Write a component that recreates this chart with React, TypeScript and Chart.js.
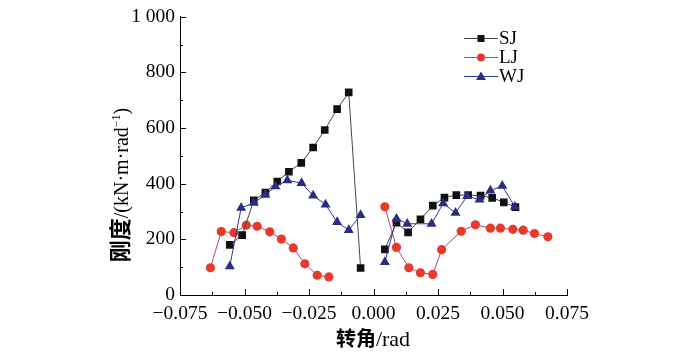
import React, { useEffect, useRef } from "react";
import { Chart, registerables } from "chart.js";
Chart.register(...registerables);

// ---- data (rotation in rad, stiffness in kN·m/rad) ----
const sjNegX = [-0.0557, -0.0509, -0.0464, -0.0419, -0.0373, -0.0328, -0.028, -0.0234, -0.0189, -0.0141, -0.0096, -0.005];
const sjNegY = [180, 215, 340, 368, 408, 443, 475, 530, 593, 668, 728, 97];
const sjPosX = [0.0044, 0.0089, 0.0134, 0.0182, 0.023, 0.0275, 0.0321, 0.0367, 0.0415, 0.046, 0.0505, 0.055];
const sjPosY = [164, 260, 225, 272, 321, 350, 359, 359, 357, 349, 333, 316];

const ljNegX = [-0.0632, -0.059, -0.0541, -0.0493, -0.0451, -0.0402, -0.0357, -0.0311, -0.0266, -0.0218, -0.0173];
const ljNegY = [98, 228, 224, 251, 247, 227, 201, 169, 112, 71, 65];
const ljPosX = [0.0044, 0.0089, 0.0137, 0.0182, 0.023, 0.0264, 0.034, 0.0395, 0.0453, 0.0492, 0.054, 0.058, 0.0624, 0.0676];
const ljPosY = [317, 171, 98, 80, 74, 163, 229, 252, 240, 240, 236, 233, 221, 209];

const wjNegX = [-0.0557, -0.0513, -0.0464, -0.0419, -0.038, -0.0334, -0.0279, -0.0234, -0.0186, -0.0141, -0.0096, -0.005];
const wjNegY = [103, 313, 331, 360, 390, 412, 402, 357, 325, 262, 233, 287];
const wjPosX = [0.0044, 0.0089, 0.0131, 0.0225, 0.027, 0.0318, 0.0363, 0.0411, 0.0453, 0.0499, 0.0548];
const wjPosY = [118, 274, 256, 256, 329, 295, 355, 343, 375, 392, 317];

const seriesNames = ["SJ", "LJ", "WJ"];
const xMin = -0.075, xMax = 0.075, xStep = 0.025;
const yMin = 0, yMax = 1000, yStep = 200;

const SERIF = '"Liberation Serif", "Times New Roman", serif';
const CJK = '"Noto Sans CJK SC", sans-serif';

function pts(nx: number[], ny: number[], px: number[], py: number[]) {
  return [
    ...nx.map((x, i) => ({ x, y: ny[i] })),
    { x: 0, y: null as any },
    ...px.map((x, i) => ({ x, y: py[i] })),
  ];
}

const styles = [
  { line: "#3d4a45", fill: "#111111", edge: "#111111", shape: "rect" },
  { line: "#c2406e", fill: "#e8392d", edge: "#e4533f", shape: "circle" },
  { line: "#34379a", fill: "#2b2e7e", edge: "#2b2e7e", shape: "triangle" },
];

function drawMarker(ctx: CanvasRenderingContext2D, shape: string, x: number, y: number, s: number, fill: string) {
  ctx.fillStyle = fill;
  ctx.beginPath();
  if (shape === "rect") {
    ctx.rect(x - s / 2, y - s / 2, s, s);
  } else if (shape === "circle") {
    ctx.arc(x, y, s / 2, 0, Math.PI * 2);
  } else {
    ctx.moveTo(x, y - s * 0.55);
    ctx.lineTo(x + s * 0.55, y + s * 0.4);
    ctx.lineTo(x - s * 0.55, y + s * 0.4);
    ctx.closePath();
  }
  ctx.fill();
}

function drawMixed(ctx: CanvasRenderingContext2D, parts: { t: string; f: string; dy?: number }[], cx: number, cy: number) {
  let total = 0;
  const widths = parts.map((p) => {
    ctx.font = p.f;
    const w = ctx.measureText(p.t).width;
    total += w;
    return w;
  });
  let x = cx - total / 2;
  ctx.textBaseline = "alphabetic";
  ctx.textAlign = "left";
  parts.forEach((p, i) => {
    ctx.font = p.f;
    ctx.fillText(p.t, x, cy + (p.dy || 0));
    x += widths[i];
  });
}

const decor = {
  id: "decor",
  afterDraw(chart: any) {
    const { ctx } = chart;
    const xs = chart.scales.x;
    const ys = chart.scales.y;
    const ca = chart.chartArea;
    ctx.save();
    ctx.strokeStyle = "#000";
    ctx.lineWidth = 1;
    // inward ticks on x
    const nx = Math.round((xMax - xMin) / (xStep / 2));
    for (let i = 0; i <= nx; i++) {
      const v = xMin + (i * xStep) / 2;
      const px = Math.round(xs.getPixelForValue(v)) + 0.5;
      const len = i % 2 === 0 ? 6 : 3;
      ctx.beginPath();
      ctx.moveTo(px, ca.bottom);
      ctx.lineTo(px, ca.bottom - len);
      ctx.stroke();
    }
    const ny = Math.round((yMax - yMin) / (yStep / 2));
    for (let i = 0; i <= ny; i++) {
      const v = yMin + (i * yStep) / 2;
      const py = Math.round(ys.getPixelForValue(v)) + 0.5;
      const len = i % 2 === 0 ? 6 : 3;
      ctx.beginPath();
      ctx.moveTo(ca.left, py);
      ctx.lineTo(ca.left + len, py);
      ctx.stroke();
    }
    // axis titles
    ctx.fillStyle = "#000";
    drawMixed(
      ctx,
      [
        { t: "转角", f: `bold 20px ${CJK}` },
        { t: "/rad", f: `22px ${SERIF}` },
      ],
      373,
      346
    );
    ctx.save();
    ctx.translate(128, 185);
    ctx.rotate(-Math.PI / 2);
    drawMixed(
      ctx,
      [
        { t: "刚度", f: `bold 22px ${CJK}` },
        { t: "/(kN·m·rad", f: `20px ${SERIF}` },
        { t: "−1", f: `12px ${SERIF}`, dy: -8 },
        { t: ")", f: `20px ${SERIF}` },
      ],
      0,
      0
    );
    ctx.restore();
    // legend
    const rows = [38, 57, 76];
    seriesNames.forEach((name, i) => {
      const st = styles[i];
      const y = rows[i] + 0.5;
      ctx.strokeStyle = st.line;
      ctx.lineWidth = 1;
      ctx.beginPath();
      ctx.moveTo(464, y);
      ctx.lineTo(498, y);
      ctx.stroke();
      drawMarker(ctx, st.shape, 481, y, i === 0 ? 7 : i === 1 ? 8 : 9, st.fill);
      ctx.fillStyle = "#000";
      ctx.font = `19px ${SERIF}`;
      ctx.textAlign = "left";
      ctx.textBaseline = "middle";
      ctx.fillText(name, 499, rows[i] + 1);
    });
    ctx.restore();
  },
};

export default function App() {
  const ref = useRef<HTMLCanvasElement>(null);
  useEffect(() => {
    if (!ref.current) return;
    const all = [
      pts(sjNegX, sjNegY, sjPosX, sjPosY),
      pts(ljNegX, ljNegY, ljPosX, ljPosY),
      pts(wjNegX, wjNegY, wjPosX, wjPosY),
    ];
    const radii = [5.4, 4.6, 5.8];
    const orders = [1, 2, 0];
    const chart = new Chart(ref.current, {
      type: "line",
      data: {
        datasets: seriesNames.map((name, i) => ({
          label: name,
          data: all[i] as any,
          borderColor: styles[i].line,
          borderWidth: 1,
          backgroundColor: styles[i].fill,
          pointBackgroundColor: styles[i].fill,
          pointBorderColor: styles[i].edge,
          pointBorderWidth: 0,
          pointStyle: styles[i].shape as any,
          pointRadius: radii[i],
          pointHoverRadius: radii[i],
          tension: 0,
          spanGaps: false,
          fill: false,
          order: orders[i],
        })),
      },
      options: {
        animation: false,
        responsive: true,
        maintainAspectRatio: false,
        layout: { padding: { top: 13, right: 133, left: 0, bottom: 0 } },
        plugins: { legend: { display: false }, tooltip: { enabled: false } },
        scales: {
          x: {
            type: "linear",
            min: xMin,
            max: xMax,
            ticks: {
              stepSize: xStep,
              padding: 7,
              color: "#000",
              font: { family: SERIF, size: 19.5 },
              maxRotation: 0,
              autoSkip: false,
              callback: (v: any) => {
                const n = Number(v);
                if (Math.abs(n) < 1e-9) return "0.000";
                return (n < 0 ? "−" : "") + Math.abs(n).toFixed(3);
              },
            },
            grid: { display: true, drawOnChartArea: false, drawTicks: false },
            border: { display: true, color: "#000", width: 1 },
            afterFit: (s: any) => {
              s.height = 57;
            },
          },
          y: {
            min: yMin,
            max: yMax,
            ticks: {
              stepSize: yStep,
              padding: 5,
              color: "#000",
              font: { family: SERIF, size: 19.5 },
              callback: (v: any) => (Number(v) === 1000 ? "1 000" : String(v)),
            },
            grid: { display: true, drawOnChartArea: false, drawTicks: false },
            border: { display: true, color: "#000", width: 1 },
            afterFit: (s: any) => {
              s.width = 180;
            },
          },
        },
      },
      plugins: [decor],
    });
    return () => chart.destroy();
  }, []);
  return (
    <div style={{ position: "absolute", left: 0, top: 0, width: 700, height: 352, background: "#fff" }}>
      <canvas ref={ref} />
    </div>
  );
}
